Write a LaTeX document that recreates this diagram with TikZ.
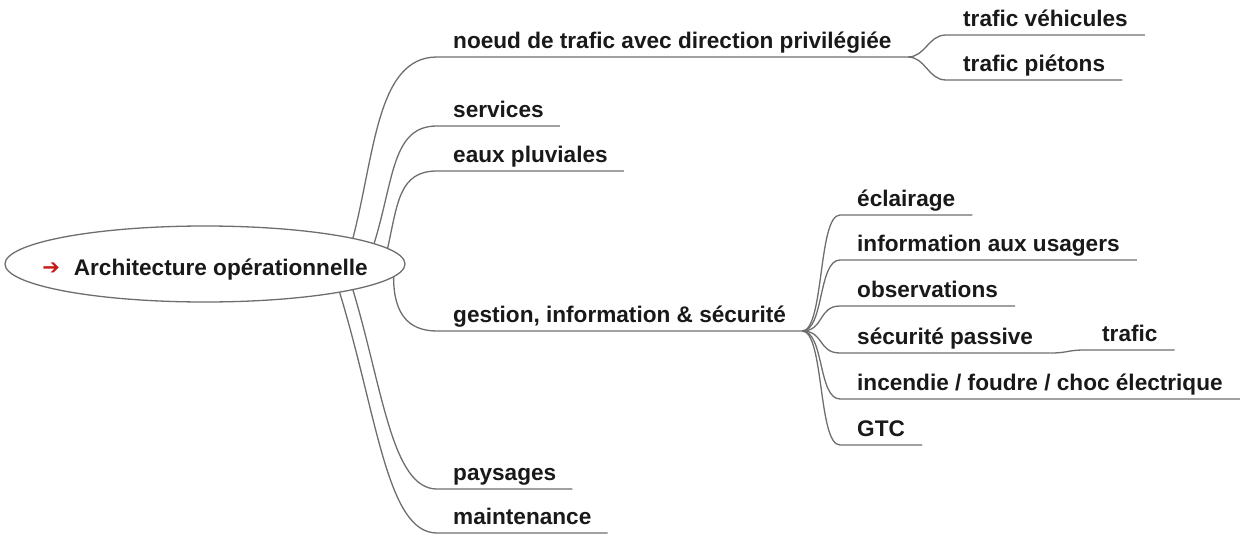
\documentclass[tikz,border=0pt]{standalone}
\usepackage{fontspec}
\setmainfont{Liberation Sans}
\newfontfamily\arrowfont{DejaVu Sans}
\usetikzlibrary{shapes.geometric}
\definecolor{linegray}{RGB}{110,110,110}
\definecolor{txtcol}{RGB}{25,25,25}
\definecolor{arrowred}{RGB}{200,25,25}
\begin{document}
\begin{tikzpicture}[x=1pt,y=-1pt,
  br/.style={draw=linegray, line width=1.3pt},
  lbl/.style={font=\fontsize{22.6}{26}\selectfont\bfseries, text=txtcol,
    inner xsep=16pt, inner ysep=8.5pt, text height=17pt, text depth=0pt, anchor=south west},
  sub/.style={lbl, inner xsep=17pt},
  rootnode/.style={ellipse, draw=linegray, line width=1.3pt, fill=white,
    minimum width=400pt, minimum height=76pt, inner sep=0pt},
  rootlbl/.style={font=\fontsize{22.6}{26}\selectfont\bfseries, text=txtcol,
    inner sep=0pt, text height=22pt, text depth=0pt}]
\useasboundingbox (0,0) rectangle (1241,535);

% nodes
\node[rootnode] (root) at (205,264) {};
\node[rootlbl] (rl) at (root.center) {\raisebox{0.5pt}{\arrowfont\fontsize{21}{21}\selectfont\textcolor{arrowred}{➔}}\hspace{14pt}Architecture opérationnelle};
\node[lbl] (n1) at (437,57) {noeud de trafic avec direction privilégiée};
\node[lbl] (n2) at (437,126) {services};
\node[lbl] (n3) at (437,171) {eaux pluviales};
\node[lbl] (n4) at (437,331) {gestion, information \& sécurité};
\node[lbl] (n5) at (437,489) {paysages};
\node[lbl] (n6) at (437,533) {maintenance};

\node[sub] (v1) at (946,35) {trafic véhicules};
\node[sub] (v2) at (946,80) {trafic piétons};

\node[sub] (g1) at (840,215) {éclairage};
\node[sub] (g2) at (840,260) {information aux usagers};
\node[sub] (g3) at (840,306) {observations};
\node[sub] (g4) at (840,353) {sécurité passive};
\node[sub] (g5) at (840,399) {incendie / foudre / choc électrique};
\node[sub] (g6) at (840,445) {GTC};
\node[sub] (t1) at (1085,350) {trafic};

% main branches
\draw[br] (root.10) .. controls +(22,-85) and +(-60,0) .. (n1.south west) -- (n1.south east);
\draw[br] (root.7) .. controls +(20,-65) and +(-45,0) .. (n2.south west) -- (n2.south east);
\draw[br] (root.5) .. controls +(10,-45) and +(-38,0) .. (n3.south west) -- (n3.south east);
\draw[br] (root.-4) .. controls +(0,35) and +(-30,0) .. (n4.south west) -- (n4.south east);
\draw[br] (root.-10) .. controls +(30,100) and +(-45,0) .. (n5.south west) -- (n5.south east);
\draw[br] (root.-12) .. controls +(38,125) and +(-50,0) .. (n6.south west) -- (n6.south east);

% sub branches
\foreach \v in {v1,v2}
  \draw[br] (n1.south east) .. controls +(18,0) and +(-18,0) .. (\v.south west) -- (\v.south east);
\foreach \g in {g1,g2,g3,g4,g5,g6}
  \draw[br] (n4.south east) .. controls +(22,0) and +(-22,0) .. (\g.south west) -- (\g.south east);
\draw[br] (g4.south east) .. controls +(18,0) and +(-18,0) .. (t1.south west) -- (t1.south east);
\end{tikzpicture}
\end{document}
